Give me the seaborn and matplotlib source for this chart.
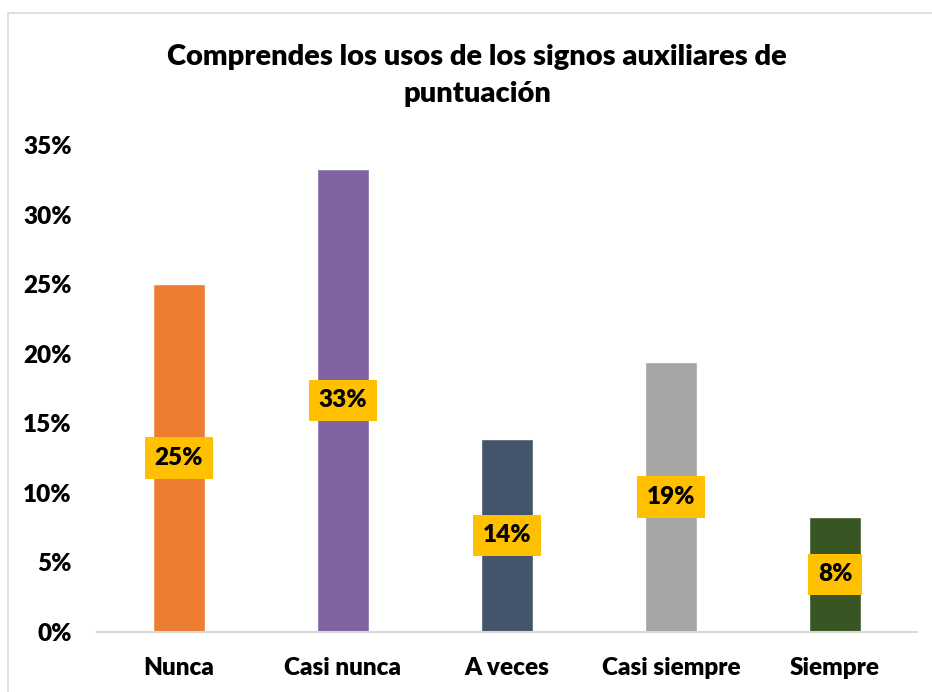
import matplotlib
matplotlib.use("Agg")
import matplotlib.pyplot as plt
import matplotlib.patches as mpatches
from matplotlib.ticker import FuncFormatter, MultipleLocator
import seaborn as sns
import pandas as pd

# data
categorias = ["Nunca", "Casi nunca", "A veces", "Casi siempre", "Siempre"]
porcentajes = [25.0, 33.3, 13.9, 19.4, 8.3]
etiquetas = ["25%", "33%", "14%", "19%", "8%"]
colores = ["#ED7D31", "#8064A2", "#44546A", "#A5A5A5", "#375623"]

titulo = "Comprendes los usos de los signos auxiliares de\npuntuación"

sns.set_theme(style="white")
plt.rcParams["font.family"] = ["Lato", "DejaVu Sans"]
plt.rcParams["text.color"] = "black"

df = pd.DataFrame({"categoria": categorias, "valor": porcentajes})

fig = plt.figure(figsize=(9.32, 6.92), dpi=100)
ax = fig.add_axes([0.104, 0.0867, 0.880, 0.7037])

sns.barplot(data=df, x="categoria", y="valor", hue="categoria",
            palette=colores, width=0.317, legend=False, ax=ax,
            saturation=1)

ax.set_ylim(0, 35)
ax.set_xlim(-0.5, len(categorias) - 0.5)
ax.yaxis.set_major_locator(MultipleLocator(5))
ax.yaxis.set_major_formatter(FuncFormatter(lambda v, p: f"{int(v)}%"))
ax.set_xlabel("")
ax.set_ylabel("")

for s in ["top", "right", "left"]:
    ax.spines[s].set_visible(False)
ax.spines["bottom"].set_color("#D9D9D9")
ax.spines["bottom"].set_linewidth(1.5)
ax.tick_params(axis="both", length=0, labelsize=17.5, colors="black")
ax.tick_params(axis="y", pad=18)
ax.tick_params(axis="x", pad=18)
for lbl in ax.get_xticklabels() + ax.get_yticklabels():
    lbl.set_fontweight("heavy")

# data labels centred in each bar
for i, (v, t) in enumerate(zip(porcentajes, etiquetas)):
    ax.text(i, v / 2, t, ha="center", va="center", fontsize=17.5,
            fontweight="heavy", color="black",
            bbox=dict(boxstyle="square,pad=0.4", fc="#FFC000", ec="none"))

fig.text(0.512, 0.891, titulo, ha="center", va="center", fontsize=21,
         fontweight="heavy", linespacing=1.55, color="black")

# chart area border (partly cropped in the reference)
fig.patches.append(mpatches.Rectangle((8 / 932, -0.1), 1.2, 1 - 13 / 692 + 0.1,
                                      transform=fig.transFigure, fill=False,
                                      ec="#D9D9D9", lw=1.2))

fig.savefig("out.png", dpi=100)
